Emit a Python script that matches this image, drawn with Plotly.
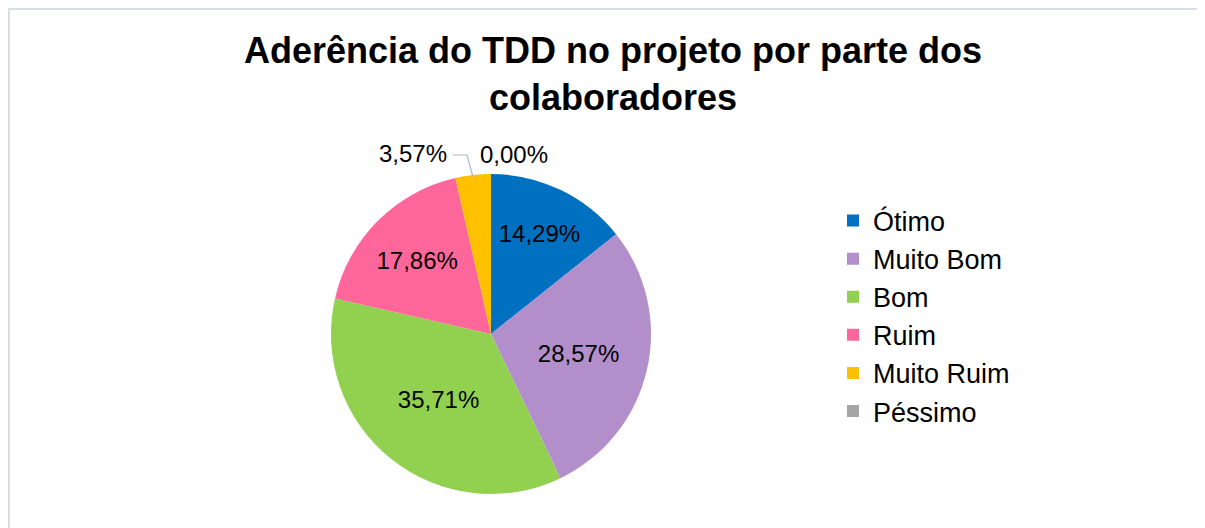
import plotly.graph_objects as go

# Respostas da pesquisa (28 colaboradores)
categorias = ["Ótimo", "Muito Bom", "Bom", "Ruim", "Muito Ruim", "Péssimo"]
respostas = [4, 8, 10, 5, 1, 0]
cores = ["#0070C0", "#B28FCB", "#92D050", "#FF6699", "#FFC000", "#A5A5A5"]
# os dois menores rótulos ficam fora da pizza (como no original)
posicao_texto = ["inside", "inside", "inside", "inside", "none", "none"]

W, H = 1205, 528
OFF = 8  # margem padrão do <body> na página

def px(x):
    return (x - OFF) / W

def py(y):
    return 1 - (y - OFF) / H

cx, cy, raio = 491, 334, 160

total = sum(respostas)
def pct(v):
    return f"{v / total * 100:.2f}%".replace(".", ",")

fonte = "Liberation Sans, Arial"

fig = go.Figure(go.Pie(
    labels=categorias,
    values=respostas,
    sort=False,
    direction="clockwise",
    rotation=0,
    marker=dict(colors=cores, line=dict(width=0)),
    texttemplate="%{percent:.2%}",
    textposition=posicao_texto,
    insidetextorientation="horizontal",
    textfont=dict(family=fonte, size=24, color="#000000"),
    hoverinfo="label+percent",
    domain=dict(x=[px(cx - raio), px(cx + raio)],
                y=[py(cy + raio), py(cy - raio)]),
))

# rótulos externos: Muito Ruim (com linha de chamada) e Péssimo
fig.add_annotation(
    text=pct(respostas[4]), xref="paper", yref="paper",
    x=px(449), y=py(153), xanchor="right", yanchor="middle",
    showarrow=False,
    font=dict(family=fonte, size=24, color="#000000"),
)
fig.add_annotation(
    text=pct(respostas[5]), xref="paper", yref="paper",
    x=px(514), y=py(155), showarrow=False,
    xanchor="center", yanchor="middle",
    font=dict(family=fonte, size=24, color="#000000"),
)

linha_chamada = "M {:.5f},{:.5f} L {:.5f},{:.5f} L {:.5f},{:.5f}".format(
    px(453), py(155), px(467), py(155), px(473), py(177))

fig.update_layout(
    width=W, height=H,
    separators=",.",
    margin=dict(l=0, r=0, t=0, b=0),
    paper_bgcolor="white",
    font=dict(family=fonte, color="#000000"),
    title=dict(
        text="<b>Aderência do TDD no projeto por parte dos<br>colaboradores</b>",
        x=px(613), xanchor="center",
        y=py(63), yanchor="top",
        font=dict(size=36, color="#000000"),
    ),
    legend=dict(
        x=px(833), xanchor="left",
        y=py(316), yanchor="middle",
        font=dict(size=27, color="#000000"),
        bgcolor="rgba(0,0,0,0)",
    ),
    shapes=[
        dict(type="rect", xref="paper", yref="paper",
             x0=1 / W, x1=1.02, y0=-0.05, y1=1 - 1 / H,
             line=dict(color="#D9DEE5", width=2)),
        dict(type="path", xref="paper", yref="paper", path=linha_chamada,
             line=dict(color="#A9B6C8", width=1.2)),
    ],
)

fig.write_html("out.html")
